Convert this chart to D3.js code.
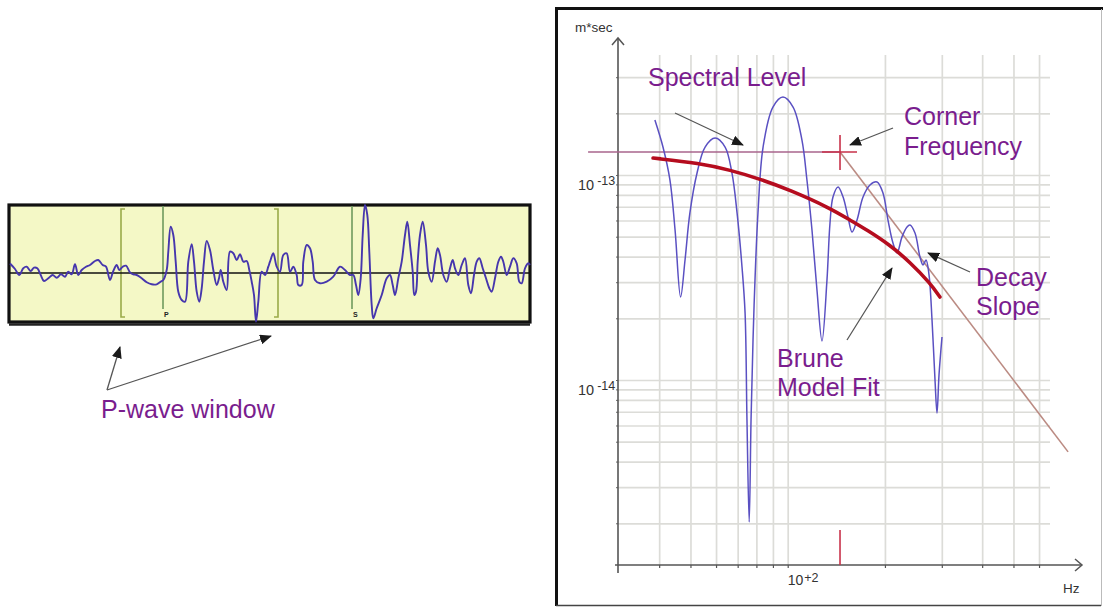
<!DOCTYPE html>
<html><head><meta charset="utf-8">
<script src="https://cdn.jsdelivr.net/npm/d3@7"></script>
<style>
html,body{margin:0;padding:0;background:#fff;}
svg{display:block;font-family:"Liberation Sans",Arial,sans-serif;}
</style></head><body>
<svg id="chart" width="1103" height="608"></svg>
<script>
// ---- Seismogram trace (time in s, amplitude in counts) ----
const waveTime = [0,0.5,0.93,1.33,1.67,2.07,2.4,2.73,3.07,3.4,3.83,4.27,4.67,5.1,5.5,5.83,6.17,6.5,6.83,7.17,
  7.6,8.0,8.5,8.83,9.27,9.6,10.0,10.33,10.67,10.93,11.27,11.6,12.0,12.33,12.67,13.17,13.67,14.17,14.67,15.07,
  15.33,15.67,15.83,16.07,16.33,16.57,16.83,17.17,17.5,17.83,18.17,18.4,18.67,18.93,19.17,19.4,19.67,20.0,20.33,20.67,
  20.9,21.07,21.33,21.67,22.0,22.33,22.67,23.0,23.33,23.67,23.93,24.17,24.4,24.6,24.83,25.17,25.5,25.83,
  26.0,26.33,26.67,27.0,27.33,27.67,28.0,28.33,28.67,28.83,29.17,29.33,29.67,30.0,30.27,30.5,31.0,31.67,32.33,33.0,
  33.5,34.0,34.33,34.6,34.83,35.07,35.27,35.5,35.73,35.93,36.17,36.33,36.67,37.17,37.67,38.0,38.27,38.5,38.83,39.17,
  39.5,39.73,40.0,40.27,40.43,40.6,40.77,41.0,41.27,41.6,41.83,42.17,42.5,42.77,43.0,43.33,43.67,44.0,44.27,44.5,
  44.83,45.17,45.5,45.83,46.1,46.4,46.67,46.93,47.27,47.6,47.93,48.17,48.5,48.83,49.1,49.33,49.67,50.0,50.33,50.67,
  50.93,51.17,51.5,51.83,52.0];
const waveAmp = [95,40,-20,47,63,20,53,47,-20,-80,-53,-20,-47,-13,-37,13,-13,87,-20,30,
  63,80,120,130,80,63,-70,20,80,30,63,73,7,-13,-20,-53,-93,-113,-113,-87,
  -70,30,213,463,380,113,-187,-270,-287,113,287,113,-187,-287,-153,113,320,230,30,-120,
  -53,30,-87,-170,213,197,130,187,113,120,30,-87,-220,-487,-287,13,-20,63,
  113,197,63,13,180,197,13,63,-20,-120,-120,113,280,247,113,-70,-103,-87,-37,63,
  30,-20,-20,-120,-220,-53,380,680,580,213,-320,-453,-353,-220,-53,-20,-120,-220,-53,113,
  380,513,280,13,-220,-187,113,380,513,280,13,-87,113,247,180,-20,-87,47,130,47,
  -20,80,147,-120,-203,-20,113,147,47,-53,-153,-187,-53,113,163,113,-20,63,147,97,
  -87,-103,47,97,80];
const waveDomain = [0, 52];
const ampDomain = [-700, 700];
const windowStart = 11.1, windowEnd = 26.8;   // P-wave window (s)
const phasePicks = [{label: "P", t: 15.3}, {label: "S", t: 34.2}];

// ---- Displacement spectrum (Hz, m*sec) ----
const specFreq = [38.8,41.1,43.2,44.8,46.6,48.1,49.8,52.4,55.5,59.6,64.0,67.2,69.7,72.2,73.8,74.8,76.0,77.0,78.1,79.2,
  80.9,83.9,90.0,96.7,103.9,110.7,114.7,118.9,123.2,127.7,132.3,135.2,138.1,143.2,148.4,153.7,158.2,163.9,171.1,179.8,
  189.0,197.2,204.4,211.8,218.0,225.9,234.1,239.1,247.8,256.8,262.4,268.1,273.9,279.8,285.8,289.9,294.1,300.4];
const specAmp = [1.855e-13,1.37e-13,9.45e-14,5.39e-14,2.54e-14,3.85e-14,6.53e-14,1.023e-13,1.369e-13,1.515e-13,
  1.369e-13,1.023e-13,6.53e-14,3.56e-14,2.12e-14,6.38e-15,2.03e-15,6.38e-15,1.567e-14,3.07e-14,
  6.53e-14,1.369e-13,2.146e-13,2.40e-13,2.146e-13,1.481e-13,9.45e-14,5.39e-14,2.75e-14,1.55e-14,
  3.07e-14,5.83e-14,7.81e-14,8.74e-14,7.81e-14,6.24e-14,5.27e-14,6.03e-14,7.81e-14,8.94e-14,
  9.24e-14,8.17e-14,6.03e-14,4.66e-14,4.17e-14,4.99e-14,5.58e-14,5.70e-14,5.21e-14,3.98e-14,
  3.64e-14,3.85e-14,3.25e-14,1.96e-14,1.0e-14,6.9e-15,1.06e-14,1.62e-14];
// Brune model fit
const bruneFreq = [38.3,53.5,66.3,82.1,101.6,135.2,155.9,176,207,239,276,296];
const bruneAmp = [1.21e-13,1.14e-13,1.058e-13,9.56e-14,8.45e-14,6.9e-14,6.03e-14,5.39e-14,4.56e-14,3.76e-14,2.97e-14,2.54e-14];
// Spectral level, corner frequency and high-frequency decay
const spectralLevel = 1.295e-13;
const levelFreq = [24.1, 145.2];
const cornerFreq = 145.2;
const decayFreq = [145.2, 738];
const decayAmp = [1.295e-13, 4.46e-15];
// Grid / tick values
const xGridFreq = [40,50,60,70,80,90,100,200,300,400,500,600];
const yGridAmp = [2e-15,3e-15,4e-15,5e-15,6e-15,7e-15,8e-15,9e-15,
  1e-14,2e-14,3e-14,4e-14,5e-14,6e-14,7e-14,8e-14,9e-14,1e-13,2e-13,3e-13];
const yTickLabels = [{v: 1e-13, exp: "-13"}, {v: 1e-14, exp: "-14"}];
const xTickLabels = [{v: 100, exp: "+2"}];

const purple = "#7a1d8e";
const svg = d3.select("#chart");

// arrowhead marker
svg.append("defs").append("marker")
  .attr("id", "head").attr("viewBox", "0 0 12 10").attr("refX", 11).attr("refY", 5)
  .attr("markerWidth", 12).attr("markerHeight", 10).attr("markerUnits", "userSpaceOnUse")
  .attr("orient", "auto")
  .append("path").attr("d", "M0,0 L12,5 L0,10 Z").attr("fill", "#1a1a1a");

function arrow(g, x1, y1, x2, y2) {
  g.append("line").attr("x1", x1).attr("y1", y1).attr("x2", x2).attr("y2", y2)
    .attr("stroke", "#555").attr("stroke-width", 1.3).attr("marker-end", "url(#head)");
}

/* =================== Left: seismogram =================== */
const L = svg.append("g");
const xw = d3.scaleLinear().domain(waveDomain).range([10, 530]);
const yw = d3.scaleLinear().domain(ampDomain).range([343, 203]);

L.append("rect").attr("x", 9).attr("y", 205).attr("width", 521).attr("height", 117)
  .attr("fill", "#f4f8c6").attr("stroke", "#111").attr("stroke-width", 3.2);
L.append("line").attr("x1", 9).attr("x2", 530).attr("y1", 324.5).attr("y2", 324.5)
  .attr("stroke", "#222").attr("stroke-width", 2.5);

// window brackets
const bTop = 209, bBot = 317;
[[windowStart, 4], [windowEnd, -4]].forEach(([t, s]) => {
  const x = xw(t);
  L.append("path").attr("d", `M${x + s},${bTop} H${x} V${bBot} H${x + s}`)
    .attr("fill", "none").attr("stroke", "#9aab4a").attr("stroke-width", 1.6);
});
// phase picks
phasePicks.forEach(p => {
  const x = xw(p.t);
  L.append("line").attr("x1", x).attr("x2", x).attr("y1", 206).attr("y2", 309)
    .attr("stroke", "#6f9a5e").attr("stroke-width", 1.6);
  L.append("text").attr("x", x + 1).attr("y", 317).attr("font-size", 7).attr("font-weight", "bold")
    .attr("fill", "#222").text(p.label);
});
// zero line
L.append("line").attr("x1", 10).attr("x2", 530).attr("y1", yw(0)).attr("y2", yw(0))
  .attr("stroke", "#111").attr("stroke-width", 1.6);
// trace
const wavePts = waveTime.map((t, i) => [t, waveAmp[i]]);
L.append("path").datum(wavePts)
  .attr("d", d3.line().x(d => xw(d[0])).y(d => yw(d[1])).curve(d3.curveCatmullRom.alpha(0.5)))
  .attr("fill", "none").attr("stroke", "#4636ad").attr("stroke-width", 1.9).attr("stroke-linejoin", "round");

// annotation
arrow(L, 107, 390, 120, 347);
arrow(L, 107, 390, 271, 336);
L.append("text").attr("x", 101).attr("y", 418).attr("font-size", 25).attr("fill", purple).text("P-wave window");

/* =================== Right: spectrum =================== */
const R = svg.append("g");
// frame
R.append("path").attr("d", "M556.5,606 V8.5 H1103").attr("fill", "none").attr("stroke", "#111").attr("stroke-width", 3);
R.append("line").attr("x1", 556).attr("x2", 1101).attr("y1", 605.5).attr("y2", 605.5).attr("stroke", "#444").attr("stroke-width", 1.5);
R.append("line").attr("x1", 1101.5).attr("x2", 1101.5).attr("y1", 9).attr("y2", 606).attr("stroke", "#bbb").attr("stroke-width", 1);

const x = d3.scaleLog().domain([100, 1000]).range([787.7, 1110.7]);
const y = d3.scaleLog().domain([1e-14, 1e-13]).range([380, 175]);
const x0 = 618, y0 = 565, gridRight = 1050, gridTop = 55;

// vertical grid + ticks
R.append("g").attr("transform", `translate(0,${y0})`)
  .call(d3.axisBottom(x).tickValues(xGridFreq).tickSize(-(y0 - gridTop)).tickSizeOuter(0).tickFormat(""))
  .call(g => g.select(".domain").remove())
  .call(g => g.selectAll(".tick line").attr("stroke", "#dcdcd8").attr("stroke-width", 1.7));
R.append("g").attr("transform", `translate(0,${y0})`)
  .call(d3.axisBottom(x).tickValues(xGridFreq).tickSize(3).tickSizeOuter(0).tickFormat(""))
  .call(g => g.select(".domain").remove())
  .call(g => g.selectAll(".tick line").attr("stroke", "#555").attr("stroke-width", 1.2));
// horizontal grid
R.append("g").attr("transform", `translate(${x0},0)`)
  .call(d3.axisLeft(y).tickValues(yGridAmp).tickSize(-(gridRight - x0)).tickSizeOuter(0).tickFormat(""))
  .call(g => g.select(".domain").remove())
  .call(g => g.selectAll(".tick line").attr("stroke", "#dcdcd8").attr("stroke-width", 1.7));
R.append("g").attr("transform", `translate(${x0},0)`)
  .call(d3.axisLeft(y).tickValues(yGridAmp).tickSize(2).tickSizeOuter(0).tickFormat(""))
  .call(g => g.select(".domain").remove())
  .call(g => g.selectAll(".tick line").attr("stroke", "#666").attr("stroke-width", 1));

// axes with arrows
R.append("line").attr("x1", x0).attr("x2", x0).attr("y1", 38).attr("y2", 573).attr("stroke", "#555").attr("stroke-width", 1.6);
R.append("path").attr("d", `M${x0 - 6},45 L${x0},38 L${x0 + 6},45`).attr("fill", "none").attr("stroke", "#555").attr("stroke-width", 1.5);
R.append("line").attr("x1", 615).attr("x2", 1082).attr("y1", y0).attr("y2", y0).attr("stroke", "#555").attr("stroke-width", 1.6);
R.append("path").attr("d", `M1075,${y0 - 6} L1082,${y0} L1075,${y0 + 6}`).attr("fill", "none").attr("stroke", "#555").attr("stroke-width", 1.5);

// tick labels
yTickLabels.forEach(d => {
  const t = R.append("text").attr("x", 578).attr("y", y(d.v) + 15).attr("fill", "#333");
  t.append("tspan").attr("font-size", 14.5).text("10");
  t.append("tspan").attr("font-size", 12.5).attr("dx", 3).attr("dy", -5).text(d.exp);
});
xTickLabels.forEach(d => {
  const t = R.append("text").attr("x", x(d.v)).attr("y", 585).attr("fill", "#333");
  t.append("tspan").attr("font-size", 14).text("10");
  t.append("tspan").attr("font-size", 12.5).attr("dx", 1).attr("dy", -3).text(d.exp);
});
R.append("text").attr("x", 575).attr("y", 32).attr("font-size", 13.5).attr("fill", "#333").text("m*sec");
R.append("text").attr("x", 1063).attr("y", 593).attr("font-size", 13.5).attr("fill", "#333").text("Hz");

// spectral level line
R.append("line").attr("x1", x(levelFreq[0])).attr("x2", x(levelFreq[1]))
  .attr("y1", y(spectralLevel)).attr("y2", y(spectralLevel))
  .attr("stroke", "#a8648c").attr("stroke-width", 1.5);
// decay slope line
R.append("line").attr("x1", x(decayFreq[0])).attr("y1", y(decayAmp[0]))
  .attr("x2", x(decayFreq[1])).attr("y2", y(decayAmp[1]))
  .attr("stroke", "#bb8b83").attr("stroke-width", 1.6);

// spectrum
const specPts = specFreq.map((f, i) => [f, specAmp[i]]);
R.append("path").datum(specPts)
  .attr("d", d3.line().x(d => x(d[0])).y(d => y(d[1])).curve(d3.curveCatmullRom.alpha(0.5)))
  .attr("fill", "none").attr("stroke", "#5a50c2").attr("stroke-width", 1.5);

// Brune fit
const brunePts = bruneFreq.map((f, i) => [f, bruneAmp[i]]);
R.append("path").datum(brunePts)
  .attr("d", d3.line().x(d => x(d[0])).y(d => y(d[1])).curve(d3.curveBasis))
  .attr("fill", "none").attr("stroke", "#b50c1e").attr("stroke-width", 3.6).attr("stroke-linecap", "round");

// corner frequency cross + axis marker
const cx = x(cornerFreq), cy = y(spectralLevel);
R.append("path").attr("d", `M${cx - 18},${cy} H${cx + 17} M${cx},${cy - 17} V${cy + 18}`)
  .attr("stroke", "#c8324a").attr("stroke-width", 1.6).attr("fill", "none");
R.append("line").attr("x1", cx).attr("x2", cx).attr("y1", 530).attr("y2", y0)
  .attr("stroke", "#c8324a").attr("stroke-width", 1.6);

// annotations
arrow(R, 675, 113, 743, 145);
arrow(R, 893, 128, 850, 145);
arrow(R, 970, 272, 928, 253);
arrow(R, 847, 340, 892, 268);
const labels = [
  ["Spectral Level", 648, 86],
  ["Corner", 904, 125], ["Frequency", 904, 155],
  ["Decay", 976, 286], ["Slope", 976, 315],
  ["Brune", 777, 367], ["Model Fit", 777, 396]
];
labels.forEach(([s, lx, ly]) => R.append("text").attr("x", lx).attr("y", ly)
  .attr("font-size", 25).attr("fill", purple).text(s));
</script>
</body></html>
